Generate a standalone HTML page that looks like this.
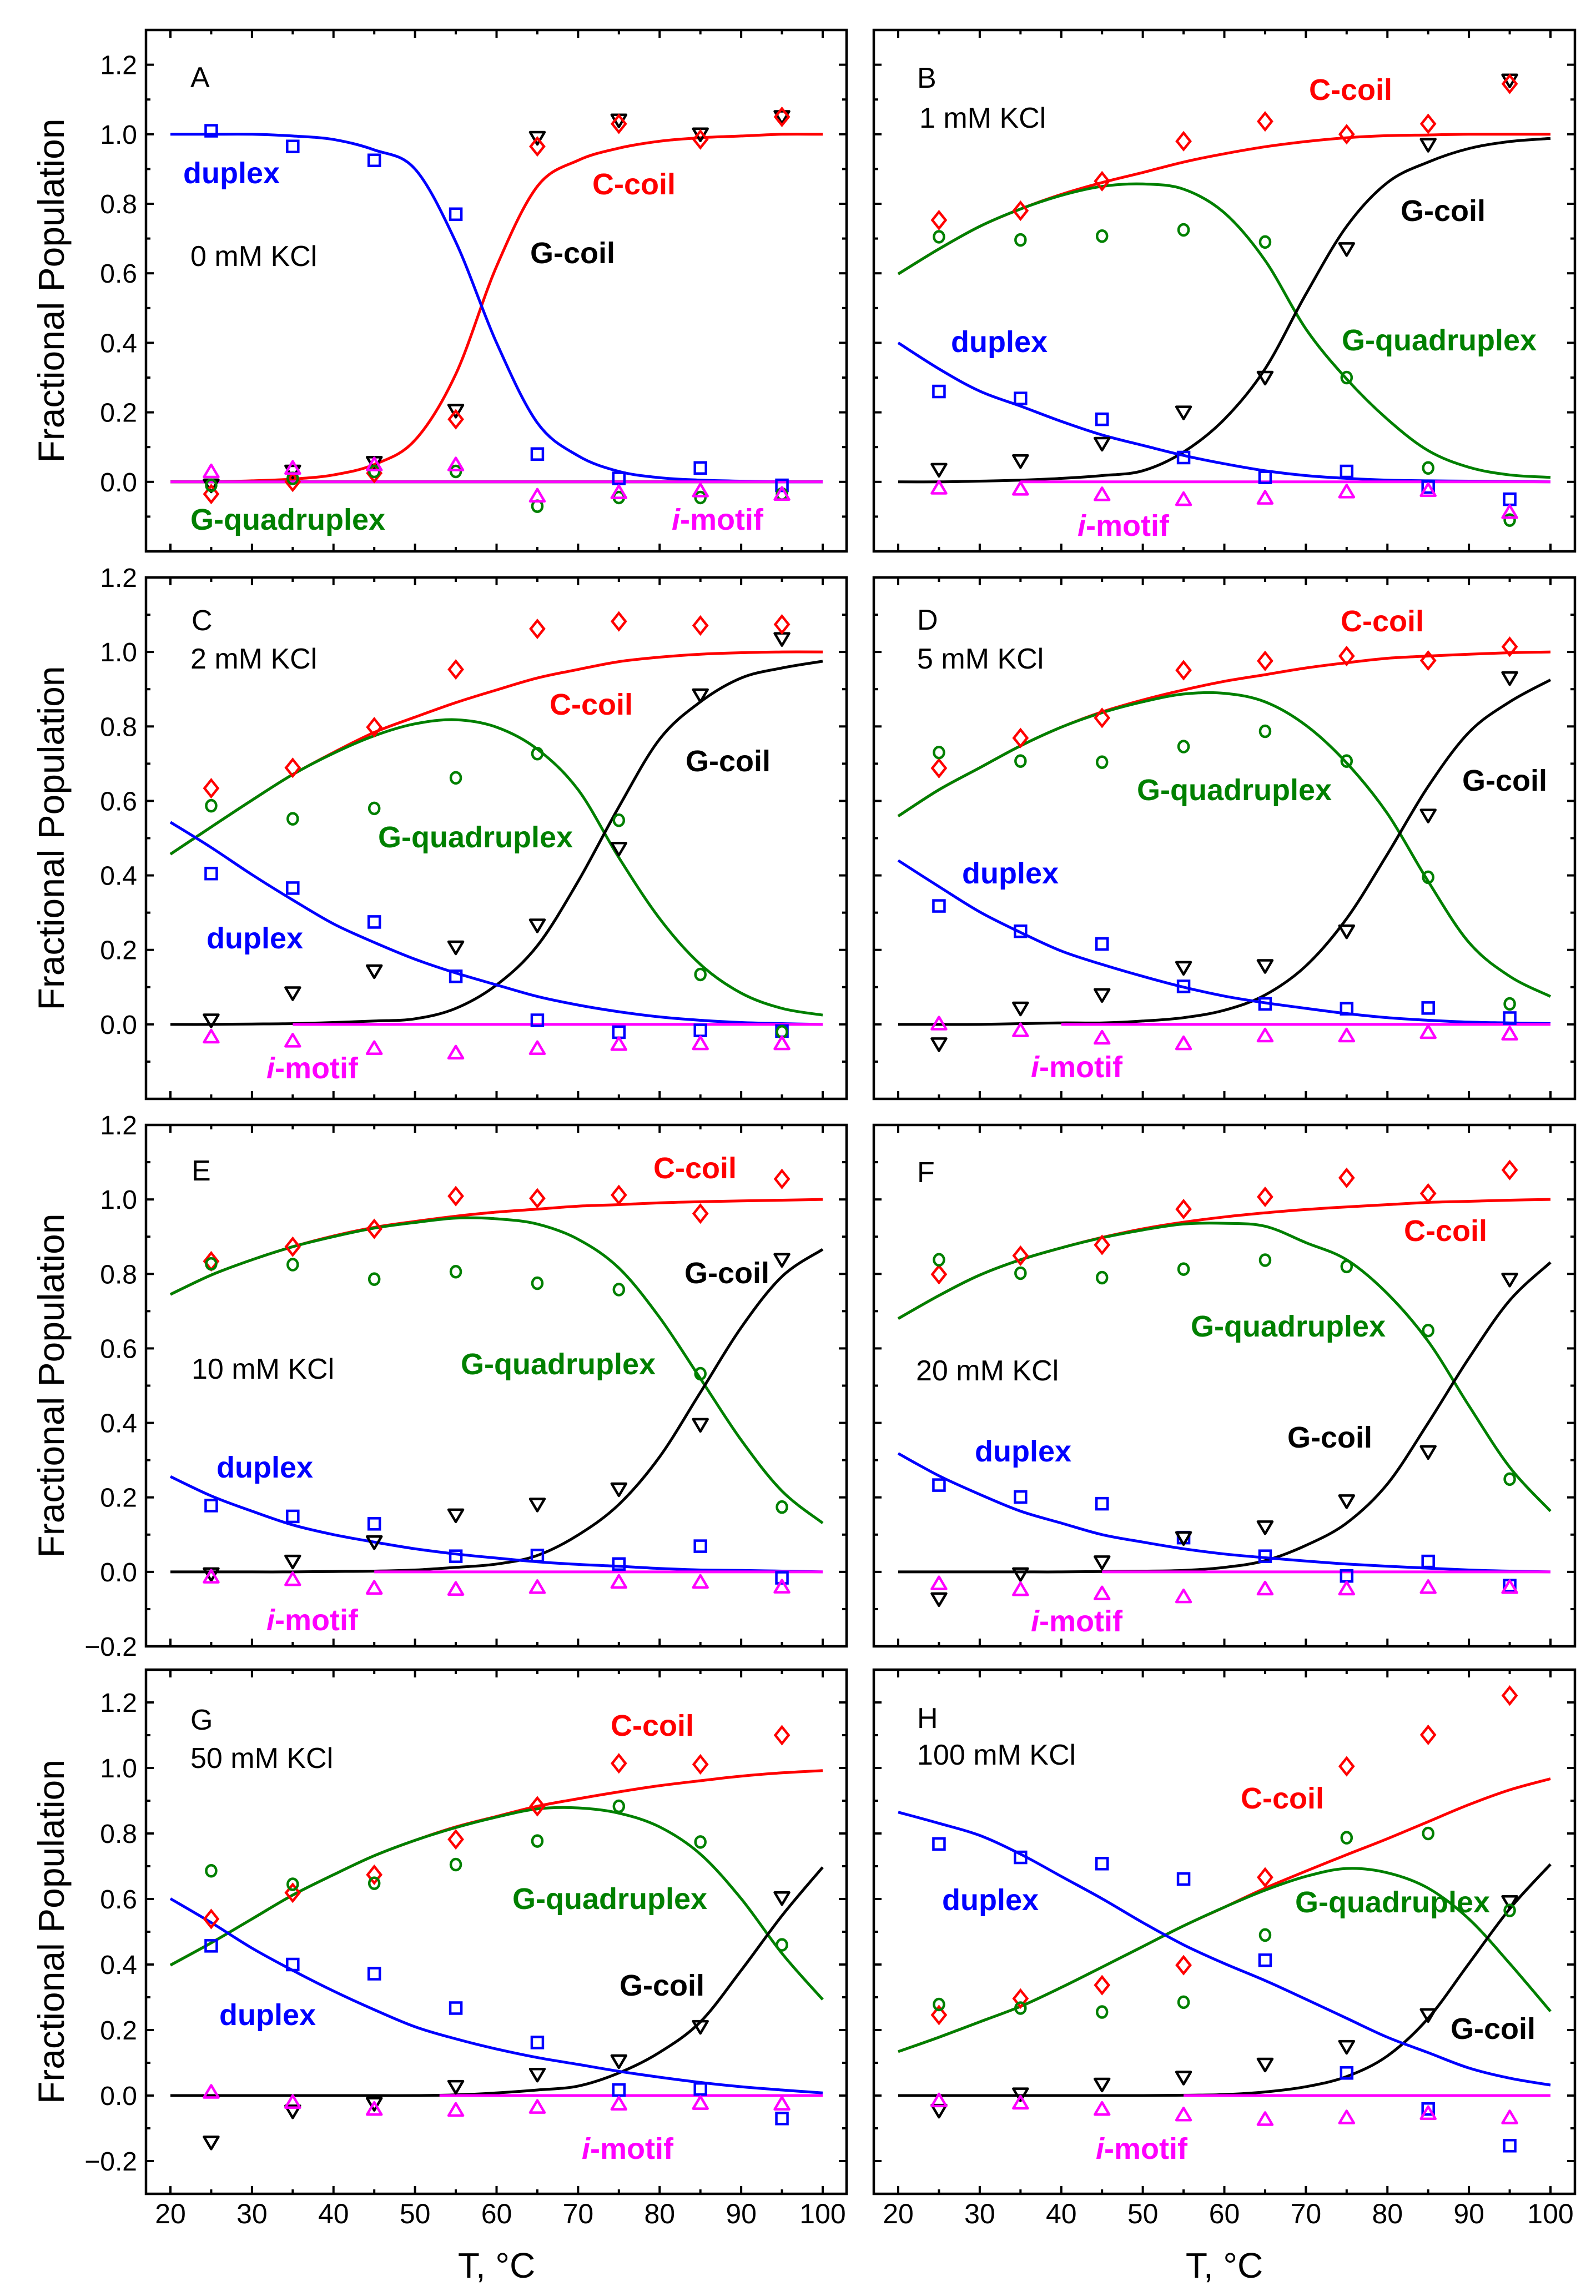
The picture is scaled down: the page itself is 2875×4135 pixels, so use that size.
<!DOCTYPE html>
<html><head><meta charset="utf-8"><title>Fractional Population vs T</title>
<style>
html,body{margin:0;padding:0;background:#fff;}
svg{display:block;font-family:"Liberation Sans",Arial,sans-serif;}
</style></head>
<body>
<svg id="chart" width="2875" height="4135" viewBox="0 0 2875 4135" xmlns="http://www.w3.org/2000/svg">
<rect x="0" y="0" width="2875" height="4135" fill="#fff"/>
</svg>
<script>
// ---------- shared temperature grids ----------
const pointT = [25, 35, 45, 55, 65, 75, 85, 95];
const curveT = [20, 25, 30, 35, 40, 45, 50, 55, 60, 65, 70, 75, 80, 85, 90, 95, 100];
const xTicks = [20, 30, 40, 50, 60, 70, 80, 90, 100];

// ---------- Panel A : 0 mM KCl ----------
const aDuplexPts = [1.01, 0.965, 0.925, 0.77, 0.08, 0.01, 0.04, -0.01];
const aCcoilPts = [-0.035, 0.0, 0.025, 0.18, 0.965, 1.03, 0.985, 1.05];
const aGcoilPts = [-0.01, 0.03, 0.055, 0.205, 0.99, 1.04, 1.0, 1.05];
const aGquadPts = [-0.01, 0.01, 0.03, 0.03, -0.07, -0.045, -0.045, -0.035];
const aImotifPts = [0.03, 0.04, 0.05, 0.05, -0.04, -0.03, -0.025, -0.035];
const aDuplexFit = [1, 1, 1, 0.995, 0.985, 0.955, 0.9, 0.69, 0.4, 0.17, 0.075, 0.03, 0.012, 0.005, 0.002, 0, 0];
const aCcoilFit = [0, 0, 0.003, 0.008, 0.02, 0.05, 0.12, 0.31, 0.62, 0.85, 0.925, 0.96, 0.98, 0.99, 0.995, 1, 1];
const aGcoilFit = [0, 0, 0, 0, 0, 0, 0, 0, 0, 0, 0, 0, 0, 0, 0, 0, 0];
const aGquadFit = [0, 0, 0, 0, 0, 0, 0, 0, 0, 0, 0, 0, 0, 0, 0, 0, 0];

// ---------- Panel B : 1 mM KCl ----------
const bDuplexPts = [0.26, 0.24, 0.18, 0.07, 0.013, 0.03, -0.015, -0.05];
const bCcoilPts = [0.753, 0.78, 0.865, 0.98, 1.037, 1.0, 1.03, 1.145];
const bGcoilPts = [0.035, 0.06, 0.11, 0.2, 0.3, 0.67, 0.97, 1.155];
const bGquadPts = [0.705, 0.696, 0.707, 0.725, 0.69, 0.30, 0.04, -0.11];
const bImotifPts = [-0.017, -0.02, -0.036, -0.05, -0.046, -0.028, -0.024, -0.087];
const bDuplexFit = [0.4, 0.325, 0.261, 0.218, 0.174, 0.135, 0.105, 0.076, 0.052, 0.032, 0.018, 0.01, 0.005, 0.003, 0.002, 0.001, 0];
const bCcoilFit = [0.598, 0.67, 0.735, 0.785, 0.827, 0.861, 0.89, 0.92, 0.944, 0.964, 0.979, 0.99, 0.996, 0.998, 1, 1, 1];
const bGcoilFit = [0, 0, 0.002, 0.005, 0.01, 0.018, 0.032, 0.086, 0.18, 0.325, 0.54, 0.735, 0.861, 0.92, 0.959, 0.979, 0.988];
const bGquadFit = [0.598, 0.67, 0.735, 0.785, 0.824, 0.85, 0.857, 0.842, 0.774, 0.637, 0.44, 0.296, 0.18, 0.09, 0.042, 0.02, 0.013];

// ---------- Panel C : 2 mM KCl ----------
const cDuplexPts = [0.405, 0.366, 0.275, 0.129, 0.011, -0.021, -0.016, -0.018];
const cCcoilPts = [0.634, 0.689, 0.798, 0.953, 1.062, 1.082, 1.071, 1.074];
const cGcoilPts = [0.011, 0.084, 0.143, 0.207, 0.266, 0.472, 0.884, 1.035];
const cGquadPts = [0.587, 0.552, 0.58, 0.662, 0.727, 0.548, 0.134, -0.02];
const cImotifPts = [-0.033, -0.044, -0.064, -0.076, -0.064, -0.053, -0.051, -0.051];
const cDuplexFit = [0.543, 0.475, 0.402, 0.334, 0.27, 0.22, 0.175, 0.138, 0.106, 0.075, 0.052, 0.034, 0.02, 0.011, 0.005, 0.002, 0];
const cCcoilFit = [0.457, 0.53, 0.602, 0.671, 0.73, 0.784, 0.825, 0.864, 0.898, 0.93, 0.953, 0.974, 0.986, 0.994, 0.998, 1, 1];
const cGcoilFit = [0, 0, 0.001, 0.002, 0.005, 0.009, 0.015, 0.043, 0.106, 0.211, 0.384, 0.584, 0.766, 0.866, 0.93, 0.957, 0.975];
const cGquadFit = [0.457, 0.53, 0.602, 0.671, 0.728, 0.775, 0.807, 0.818, 0.798, 0.739, 0.63, 0.448, 0.284, 0.161, 0.084, 0.043, 0.025];

// ---------- Panel D : 5 mM KCl ----------
const dDuplexPts = [0.318, 0.25, 0.216, 0.102, 0.055, 0.042, 0.044, 0.017];
const dCcoilPts = [0.688, 0.769, 0.823, 0.951, 0.976, 0.989, 0.977, 1.014];
const dGcoilPts = [-0.053, 0.043, 0.079, 0.152, 0.157, 0.25, 0.561, 0.93];
const dGquadPts = [0.73, 0.707, 0.704, 0.746, 0.787, 0.707, 0.395, 0.055];
const dImotifPts = [0.002, -0.016, -0.036, -0.051, -0.03, -0.03, -0.021, -0.025];
const dDuplexFit = [0.44, 0.37, 0.302, 0.247, 0.197, 0.161, 0.129, 0.1, 0.076, 0.058, 0.043, 0.029, 0.018, 0.011, 0.006, 0.004, 0.002];
const dCcoilFit = [0.559, 0.63, 0.689, 0.748, 0.798, 0.839, 0.871, 0.898, 0.921, 0.939, 0.957, 0.971, 0.983, 0.989, 0.994, 0.998, 1];
const dGcoilFit = [0, 0, 0, 0.002, 0.004, 0.004, 0.009, 0.018, 0.038, 0.079, 0.157, 0.284, 0.457, 0.639, 0.784, 0.866, 0.925];
const dGquadFit = [0.559, 0.63, 0.689, 0.748, 0.798, 0.837, 0.866, 0.887, 0.889, 0.866, 0.803, 0.702, 0.566, 0.384, 0.22, 0.129, 0.075];

// ---------- Panel E : 10 mM KCl ----------
const eDuplexPts = [0.178, 0.149, 0.129, 0.042, 0.044, 0.021, 0.069, -0.016];
const eCcoilPts = [0.834, 0.873, 0.921, 1.009, 1.003, 1.012, 0.962, 1.055];
const eGcoilPts = [-0.006, 0.028, 0.08, 0.152, 0.181, 0.222, 0.395, 0.838];
const eGquadPts = [0.827, 0.825, 0.786, 0.806, 0.775, 0.758, 0.532, 0.174];
const eImotifPts = [-0.013, -0.02, -0.043, -0.046, -0.041, -0.027, -0.027, -0.04];
const eDuplexFit = [0.256, 0.204, 0.163, 0.126, 0.1, 0.08, 0.062, 0.048, 0.037, 0.027, 0.02, 0.015, 0.009, 0.005, 0.004, 0.002, 0];
const eCcoilFit = [0.745, 0.797, 0.838, 0.873, 0.902, 0.925, 0.941, 0.955, 0.966, 0.974, 0.982, 0.986, 0.991, 0.994, 0.996, 0.998, 1];
const eGcoilFit = [0, 0, 0, 0, 0.001, 0.002, 0.005, 0.012, 0.021, 0.044, 0.099, 0.181, 0.309, 0.482, 0.656, 0.793, 0.866];
const eGquadFit = [0.745, 0.797, 0.838, 0.873, 0.9, 0.923, 0.938, 0.95, 0.948, 0.934, 0.893, 0.816, 0.683, 0.519, 0.354, 0.217, 0.131];

// ---------- Panel F : 20 mM KCl ----------
const fDuplexPts = [0.233, 0.201, 0.183, 0.092, 0.042, -0.011, 0.028, -0.037];
const fCcoilPts = [0.799, 0.849, 0.878, 0.974, 1.007, 1.058, 1.016, 1.079];
const fGcoilPts = [-0.073, -0.006, 0.026, 0.091, 0.12, 0.19, 0.322, 0.785];
const fGquadPts = [0.838, 0.802, 0.79, 0.813, 0.837, 0.82, 0.648, 0.249];
const fImotifPts = [-0.031, -0.047, -0.058, -0.066, -0.045, -0.045, -0.041, -0.041];
const fDuplexFit = [0.318, 0.258, 0.208, 0.163, 0.131, 0.1, 0.08, 0.062, 0.048, 0.038, 0.029, 0.021, 0.015, 0.01, 0.005, 0.002, 0];
const fCcoilFit = [0.68, 0.742, 0.797, 0.838, 0.87, 0.898, 0.921, 0.939, 0.953, 0.964, 0.973, 0.98, 0.986, 0.992, 0.995, 0.998, 1];
const fGcoilFit = [0, 0, 0, 0, 0, 0.001, 0.002, 0.004, 0.012, 0.03, 0.071, 0.131, 0.236, 0.4, 0.574, 0.729, 0.831];
const fGquadFit = [0.68, 0.742, 0.797, 0.838, 0.87, 0.897, 0.918, 0.934, 0.936, 0.928, 0.884, 0.838, 0.747, 0.619, 0.446, 0.281, 0.163];

// ---------- Panel G : 50 mM KCl ----------
const gDuplexPts = [0.457, 0.4, 0.372, 0.267, 0.162, 0.017, 0.02, -0.07];
const gCcoilPts = [0.539, 0.619, 0.674, 0.782, 0.883, 1.014, 1.011, 1.1];
const gGcoilPts = [-0.143, -0.048, -0.025, 0.027, 0.064, 0.105, 0.21, 0.603];
const gGquadPts = [0.686, 0.645, 0.648, 0.705, 0.777, 0.883, 0.774, 0.46];
const gImotifPts = [0.011, -0.02, -0.041, -0.044, -0.035, -0.025, -0.023, -0.025];
const gDuplexFit = [0.601, 0.528, 0.45, 0.382, 0.319, 0.262, 0.21, 0.173, 0.142, 0.116, 0.095, 0.074, 0.056, 0.04, 0.027, 0.017, 0.008];
const gCcoilFit = [0.398, 0.466, 0.539, 0.612, 0.674, 0.732, 0.779, 0.82, 0.852, 0.883, 0.906, 0.927, 0.946, 0.961, 0.975, 0.985, 0.992];
const gGcoilFit = [0, 0, 0, 0, 0, 0, 0, 0.002, 0.008, 0.017, 0.029, 0.069, 0.132, 0.225, 0.382, 0.549, 0.697];
const gGquadFit = [0.398, 0.466, 0.539, 0.612, 0.674, 0.732, 0.779, 0.818, 0.85, 0.875, 0.878, 0.862, 0.82, 0.737, 0.601, 0.434, 0.293];

// ---------- Panel H : 100 mM KCl ----------
const hDuplexPts = [0.768, 0.727, 0.708, 0.661, 0.413, 0.069, -0.041, -0.153];
const hCcoilPts = [0.246, 0.296, 0.337, 0.398, 0.666, 1.005, 1.101, 1.221];
const hGcoilPts = [-0.046, 0.004, 0.034, 0.055, 0.095, 0.149, 0.246, 0.591];
const hGquadPts = [0.278, 0.267, 0.255, 0.285, 0.49, 0.787, 0.8, 0.565];
const hImotifPts = [-0.015, -0.022, -0.041, -0.058, -0.072, -0.067, -0.054, -0.067];
const hDuplexFit = [0.865, 0.831, 0.794, 0.737, 0.669, 0.601, 0.528, 0.46, 0.403, 0.351, 0.294, 0.236, 0.178, 0.131, 0.084, 0.053, 0.032];
const hCcoilFit = [0.134, 0.178, 0.225, 0.272, 0.33, 0.392, 0.455, 0.518, 0.575, 0.633, 0.685, 0.735, 0.784, 0.836, 0.888, 0.933, 0.967];
const hGcoilFit = [0, 0, 0, 0, 0, 0, 0, 0.001, 0.003, 0.011, 0.027, 0.058, 0.121, 0.236, 0.403, 0.57, 0.706];
const hGquadFit = [0.134, 0.178, 0.225, 0.272, 0.33, 0.392, 0.455, 0.518, 0.575, 0.627, 0.669, 0.693, 0.68, 0.633, 0.539, 0.403, 0.257];

// start temperature of the visible i-motif (zero) fit line per panel
const imotifLineStart = [20, 35, 35, 40, 45, 45, 53, 55];

// ---------- layout ----------
const NS = 'http://www.w3.org/2000/svg';
const svg = document.getElementById('chart');
const COLS = [{left: 263, right: 1525}, {left: 1574, right: 2837}];
const ROWS = [
  {top: 54, bottom: 993, ymin: -0.2, ymax: 1.3, labels: [0, 0.2, 0.4, 0.6, 0.8, 1.0, 1.2]},
  {top: 1040, bottom: 1979, ymin: -0.2, ymax: 1.2, labels: [0, 0.2, 0.4, 0.6, 0.8, 1.0, 1.2]},
  {top: 2026, bottom: 2965, ymin: -0.2, ymax: 1.2, labels: [-0.2, 0, 0.2, 0.4, 0.6, 0.8, 1.0, 1.2]},
  {top: 3007, bottom: 3951, ymin: -0.3, ymax: 1.3, labels: [-0.2, 0, 0.2, 0.4, 0.6, 0.8, 1.0, 1.2]}
];
const COLORS = {duplex: '#0000ff', ccoil: '#ff0000', gcoil: '#000000', gquad: '#008000', imotif: '#ff00ff'};

const panels = [
  {id: 'a', letter: 'A', kcl: '0 mM KCl', row: 0, col: 0, duplexPts: aDuplexPts, ccoilPts: aCcoilPts, gcoilPts: aGcoilPts, gquadPts: aGquadPts, imotifPts: aImotifPts, duplexFit: aDuplexFit, ccoilFit: aCcoilFit, gcoilFit: aGcoilFit, gquadFit: aGquadFit,
   lab: {letter: [343, 157], kcl: [343, 479], duplex: [330, 330], ccoil: [1067, 350], gcoil: [955, 474], gquad: [343, 954], imotif: [1210, 954]}},
  {id: 'b', letter: 'B', kcl: '1 mM KCl', row: 0, col: 1, duplexPts: bDuplexPts, ccoilPts: bCcoilPts, gcoilPts: bGcoilPts, gquadPts: bGquadPts, imotifPts: bImotifPts, duplexFit: bDuplexFit, ccoilFit: bCcoilFit, gcoilFit: bGcoilFit, gquadFit: bGquadFit,
   lab: {letter: [1652, 158], kcl: [1656, 230], duplex: [1713, 634], ccoil: [2358, 180], gcoil: [2523, 398], gquad: [2417, 631], imotif: [1941, 965]}},
  {id: 'c', letter: 'C', kcl: '2 mM KCl', row: 1, col: 0, duplexPts: cDuplexPts, ccoilPts: cCcoilPts, gcoilPts: cGcoilPts, gquadPts: cGquadPts, imotifPts: cImotifPts, duplexFit: cDuplexFit, ccoilFit: cCcoilFit, gcoilFit: cGcoilFit, gquadFit: cGquadFit,
   lab: {letter: [345, 1135], kcl: [343, 1204], duplex: [372, 1708], ccoil: [990, 1287], gcoil: [1235, 1389], gquad: [681, 1526], imotif: [480, 1942]}},
  {id: 'd', letter: 'D', kcl: '5 mM KCl', row: 1, col: 1, duplexPts: dDuplexPts, ccoilPts: dCcoilPts, gcoilPts: dGcoilPts, gquadPts: dGquadPts, imotifPts: dImotifPts, duplexFit: dDuplexFit, ccoilFit: dCcoilFit, gcoilFit: dGcoilFit, gquadFit: dGquadFit,
   lab: {letter: [1652, 1134], kcl: [1652, 1204], duplex: [1733, 1591], ccoil: [2415, 1137], gcoil: [2634, 1424], gquad: [2048, 1441], imotif: [1857, 1940]}},
  {id: 'e', letter: 'E', kcl: '10 mM KCl', row: 2, col: 0, duplexPts: eDuplexPts, ccoilPts: eCcoilPts, gcoilPts: eGcoilPts, gquadPts: eGquadPts, imotifPts: eImotifPts, duplexFit: eDuplexFit, ccoilFit: eCcoilFit, gcoilFit: eGcoilFit, gquadFit: eGquadFit,
   lab: {letter: [345, 2126], kcl: [345, 2483], duplex: [390, 2661], ccoil: [1177, 2122], gcoil: [1233, 2311], gquad: [830, 2475], imotif: [480, 2936]}},
  {id: 'f', letter: 'F', kcl: '20 mM KCl', row: 2, col: 1, duplexPts: fDuplexPts, ccoilPts: fCcoilPts, gcoilPts: fGcoilPts, gquadPts: fGquadPts, imotifPts: fImotifPts, duplexFit: fDuplexFit, ccoilFit: fCcoilFit, gcoilFit: fGcoilFit, gquadFit: fGquadFit,
   lab: {letter: [1652, 2129], kcl: [1650, 2486], duplex: [1756, 2632], ccoil: [2529, 2235], gcoil: [2319, 2607], gquad: [2145, 2407], imotif: [1857, 2938]}},
  {id: 'g', letter: 'G', kcl: '50 mM KCl', row: 3, col: 0, duplexPts: gDuplexPts, ccoilPts: gCcoilPts, gcoilPts: gGcoilPts, gquadPts: gGquadPts, imotifPts: gImotifPts, duplexFit: gDuplexFit, ccoilFit: gCcoilFit, gcoilFit: gGcoilFit, gquadFit: gGquadFit,
   lab: {letter: [343, 3115], kcl: [343, 3184], duplex: [395, 3647], ccoil: [1100, 3126], gcoil: [1116, 3594], gquad: [923, 3438], imotif: [1048, 3888]}},
  {id: 'h', letter: 'H', kcl: '100 mM KCl', row: 3, col: 1, duplexPts: hDuplexPts, ccoilPts: hCcoilPts, gcoilPts: hGcoilPts, gquadPts: hGquadPts, imotifPts: hImotifPts, duplexFit: hDuplexFit, ccoilFit: hCcoilFit, gcoilFit: hGcoilFit, gquadFit: hGquadFit,
   lab: {letter: [1652, 3112], kcl: [1652, 3178], duplex: [1697, 3440], ccoil: [2235, 3257], gcoil: [2613, 3672], gquad: [2333, 3444], imotif: [1974, 3888]}}
];

function mk(tag, attrs, parent) {
  const el = document.createElementNS(NS, tag);
  for (const k in attrs) el.setAttribute(k, attrs[k]);
  (parent || svg).appendChild(el);
  return el;
}
function fmt(v) { return (v < 0 ? '\u2212' : '') + Math.abs(v).toFixed(1); }

function smoothPath(pts) {
  let d = 'M' + pts[0][0].toFixed(1) + ' ' + pts[0][1].toFixed(1);
  for (let i = 0; i < pts.length - 1; i++) {
    const p0 = pts[i - 1] || pts[i], p1 = pts[i], p2 = pts[i + 1], p3 = pts[i + 2] || pts[i + 1];
    const c1x = p1[0] + (p2[0] - p0[0]) / 6, c1y = p1[1] + (p2[1] - p0[1]) / 6;
    const c2x = p2[0] - (p3[0] - p1[0]) / 6, c2y = p2[1] - (p3[1] - p1[1]) / 6;
    d += ' C' + c1x.toFixed(1) + ' ' + c1y.toFixed(1) + ' ' + c2x.toFixed(1) + ' ' + c2y.toFixed(1) + ' ' + p2[0].toFixed(1) + ' ' + p2[1].toFixed(1);
  }
  return d;
}

function marker(kind, cx, cy, color, g) {
  const sw = 4.5;
  let el;
  if (kind === 'square') {
    el = mk('rect', {x: cx - 10, y: cy - 10, width: 20, height: 20, fill: 'none', stroke: color, 'stroke-width': sw}, g);
  } else if (kind === 'diamond') {
    el = mk('polygon', {points: `${cx},${cy - 15} ${cx + 12},${cy} ${cx},${cy + 15} ${cx - 12},${cy}`, fill: 'none', stroke: color, 'stroke-width': sw}, g);
  } else if (kind === 'circle') {
    el = mk('ellipse', {cx: cx, cy: cy, rx: 9, ry: 10, fill: 'none', stroke: color, 'stroke-width': sw}, g);
  } else if (kind === 'down') {
    el = mk('polygon', {points: `${cx - 13},${cy - 10} ${cx + 13},${cy - 10} ${cx},${cy + 12}`, fill: 'none', stroke: color, 'stroke-width': sw, 'stroke-linejoin': 'round'}, g);
  } else {
    el = mk('polygon', {points: `${cx - 13},${cy + 10} ${cx + 13},${cy + 10} ${cx},${cy - 12}`, fill: 'none', stroke: color, 'stroke-width': sw, 'stroke-linejoin': 'round'}, g);
  }
  return el;
}

panels.forEach((p, pi) => {
  const col = COLS[p.col], row = ROWS[p.row];
  const x0 = col.left + 44, x1 = x0 + 1175;
  const xs = T => x0 + (T - 20) * (x1 - x0) / 80;
  const ys = v => row.bottom - (v - row.ymin) * (row.bottom - row.top) / (row.ymax - row.ymin);

  const g = mk('g', {});
  
  

  // ticks
  const tg = mk('g', {stroke: '#000', 'stroke-width': 4}, g);
  
  
  for (let T = 20; T <= 100; T += 5) {
    const len = (T % 10 === 0) ? 14 : 8;
    const x = xs(T);
    mk('line', {x1: x, y1: row.bottom, x2: x, y2: row.bottom - len}, tg);
    mk('line', {x1: x, y1: row.top, x2: x, y2: row.top + len}, tg);
  }
  for (let k = Math.ceil(row.ymin * 10 - 1e-6); k <= Math.floor(row.ymax * 10 + 1e-6); k++) {
    const v = k / 10;
    const len = (k % 2 === 0) ? 14 : 8;
    const y = ys(v);
    mk('line', {x1: col.left, y1: y, x2: col.left + len, y2: y}, tg);
    mk('line', {x1: col.right, y1: y, x2: col.right - len, y2: y}, tg);
  }

  // y tick labels (left column only)
  if (p.col === 0) {
    row.labels.forEach(v => {
      const t = mk('text', {x: 247, y: ys(v) + 17, 'font-size': 48, 'text-anchor': 'end', fill: '#000'}, g);
      t.textContent = fmt(v);
      
      
    });
  }
  // x tick labels (bottom row)
  if (p.row === 3) {
    xTicks.forEach(T => {
      const t = mk('text', {x: xs(T), y: 4004, 'font-size': 50, 'text-anchor': 'middle', fill: '#000'}, g);
      t.textContent = String(T);
      
      
    });
  }

  // fit lines
  const lineSpecs = [
    ['ccoil', p.ccoilFit], ['gquad', p.gquadFit], ['gcoil', p.gcoilFit], ['duplex', p.duplexFit]
  ];
  lineSpecs.forEach(([key, arr]) => {
    const pts = curveT.map((T, i) => [xs(T), ys(arr[i])]);
    const path = mk('path', {d: smoothPath(pts), fill: 'none', stroke: COLORS[key], 'stroke-width': 5, 'stroke-linejoin': 'round'}, g);
    
    
  });
  const im = mk('line', {x1: xs(imotifLineStart[pi]), y1: ys(0), x2: xs(100), y2: ys(0), stroke: COLORS.imotif, 'stroke-width': 5}, g);
  
  

  // data markers
  const markerSpecs = [
    ['duplex', 'square', p.duplexPts], ['gcoil', 'down', p.gcoilPts], ['ccoil', 'diamond', p.ccoilPts],
    ['gquad', 'circle', p.gquadPts], ['imotif', 'up', p.imotifPts]
  ];
  markerSpecs.forEach(([key, kind, arr]) => {
    const mg = mk('g', {}, g);
    
    
    pointT.forEach((T, i) => {
      const m = marker(kind, xs(T), ys(arr[i]), COLORS[key], mg);
      
      
    });
  });

  // frame
  const fr = mk('rect', {x: col.left, y: row.top, width: col.right - col.left, height: row.bottom - row.top, fill: 'none', stroke: '#000', 'stroke-width': 4.5}, g);
  
  

  // texts
  const L = p.lab;
  const tl = mk('text', {x: L.letter[0], y: L.letter[1], 'font-size': 52, fill: '#000'}, g);
  tl.textContent = p.letter;
  
  
  const tk = mk('text', {x: L.kcl[0], y: L.kcl[1], 'font-size': 52, fill: '#000'}, g);
  tk.textContent = p.kcl;
  
  
  const names = [['duplex', 'duplex'], ['ccoil', 'C-coil'], ['gcoil', 'G-coil'], ['gquad', 'G-quadruplex']];
  names.forEach(([key, txt]) => {
    const t = mk('text', {x: L[key][0], y: L[key][1], 'font-size': 54, 'font-weight': 'bold', fill: COLORS[key]}, g);
    t.textContent = txt;
    
    
  });
  const ti = mk('text', {x: L.imotif[0], y: L.imotif[1], 'font-size': 54, 'font-weight': 'bold', fill: COLORS.imotif}, g);
  
  
  const s1 = mk('tspan', {'font-style': 'italic'}, ti);
  s1.textContent = 'i';
  const s2 = mk('tspan', {}, ti);
  s2.textContent = '-motif';
});

// y-axis titles
ROWS.forEach((row, i) => {
  const cy = (row.top + row.bottom) / 2;
  const t = mk('text', {x: 0, y: 0, 'font-size': 66, 'text-anchor': 'middle', fill: '#000', transform: `translate(115 ${cy}) rotate(-90)`});
  t.textContent = 'Fractional Population';
  
  
});
// x-axis titles
COLS.forEach(col => {
  const t = mk('text', {x: (col.left + 44 + col.left + 44 + 1175) / 2, y: 4102, 'font-size': 64, 'text-anchor': 'middle', fill: '#000'});
  t.textContent = 'T, \u00B0C';
  
  
});
</script>
</body></html>
